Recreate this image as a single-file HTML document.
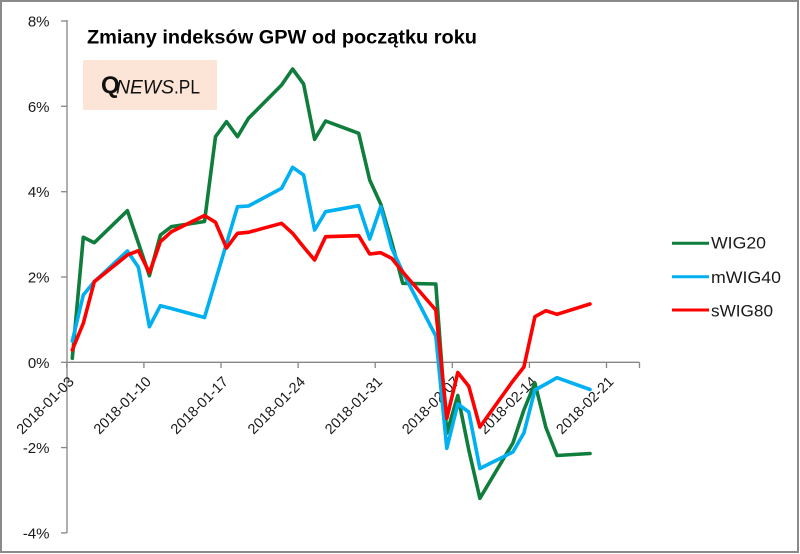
<!DOCTYPE html>
<html>
<head>
<meta charset="utf-8">
<style>
html,body{margin:0;padding:0;background:#fff;}
svg{display:block;}
text{font-family:"Liberation Sans",sans-serif;}
</style>
</head>
<body>
<svg width="800" height="554" viewBox="0 0 800 554" xmlns="http://www.w3.org/2000/svg">
<rect x="0" y="0" width="800" height="554" fill="#fff"/>
<rect x="1" y="1" width="797" height="551" fill="none" stroke="#8a8a8a" stroke-width="2"/>

<!-- title -->
<text x="87" y="43.5" font-size="19.5" font-weight="bold" fill="#000" textLength="390" lengthAdjust="spacingAndGlyphs">Zmiany indeksów GPW od początku roku</text>

<!-- logo -->
<rect x="83" y="60" width="134" height="50" fill="#fce5d6"/>
<text x="101" y="93" font-family="'Liberation Serif',serif" font-size="24" font-weight="bold" fill="#111">Q</text>
<text x="116" y="93.5" font-size="19.5" font-style="italic" fill="#111" textLength="58" lengthAdjust="spacingAndGlyphs">NEWS</text>
<text x="174" y="93.5" font-size="19" fill="#111" textLength="26" lengthAdjust="spacingAndGlyphs">.PL</text>

<!-- axes -->
<g stroke="#868686" stroke-width="1.3" fill="none">
<line x1="67" y1="20" x2="67" y2="533"/>
<line x1="61" y1="21" x2="67" y2="21"/>
<line x1="61" y1="106.3" x2="67" y2="106.3"/>
<line x1="61" y1="191.7" x2="67" y2="191.7"/>
<line x1="61" y1="277" x2="67" y2="277"/>
<line x1="61" y1="362.3" x2="67" y2="362.3"/>
<line x1="61" y1="447.6" x2="67" y2="447.6"/>
<line x1="61" y1="532.9" x2="67" y2="532.9"/>
<line x1="67" y1="362.3" x2="639.5" y2="362.3"/>
<line x1="66.8" y1="362.3" x2="66.8" y2="368"/>
<line x1="143.9" y1="362.3" x2="143.9" y2="368"/>
<line x1="221" y1="362.3" x2="221" y2="368"/>
<line x1="298.1" y1="362.3" x2="298.1" y2="368"/>
<line x1="375.2" y1="362.3" x2="375.2" y2="368"/>
<line x1="452.3" y1="362.3" x2="452.3" y2="368"/>
<line x1="529.4" y1="362.3" x2="529.4" y2="368"/>
<line x1="606.5" y1="362.3" x2="606.5" y2="368"/>
<line x1="639.5" y1="362.3" x2="639.5" y2="368"/>
</g>

<!-- y labels -->
<g font-size="15" fill="#1a1a1a" text-anchor="end">
<text x="49.5" y="26.5">8%</text>
<text x="49.5" y="111.8">6%</text>
<text x="49.5" y="197.2">4%</text>
<text x="49.5" y="282.5">2%</text>
<text x="49.5" y="367.8">0%</text>
<text x="49.5" y="453.1">-2%</text>
<text x="49.5" y="538.4">-4%</text>
</g>

<!-- x labels -->
<g font-size="14.5" fill="#1a1a1a" text-anchor="end">
<text transform="translate(74.8,382.5) rotate(-45)">2018-01-03</text>
<text transform="translate(151.9,382.5) rotate(-45)">2018-01-10</text>
<text transform="translate(229,382.5) rotate(-45)">2018-01-17</text>
<text transform="translate(306.1,382.5) rotate(-45)">2018-01-24</text>
<text transform="translate(383.2,382.5) rotate(-45)">2018-01-31</text>
<text transform="translate(460.3,382.5) rotate(-45)">2018-02-07</text>
<text transform="translate(537.4,382.5) rotate(-45)">2018-02-14</text>
<text transform="translate(614.5,382.5) rotate(-45)">2018-02-21</text>
</g>

<!-- series -->
<g fill="none" stroke-width="3.6" stroke-linejoin="round" stroke-linecap="round">
<polyline stroke="#0f7d3c" points="72.3,358.3 83.3,237.3 94.3,242.7 127.4,210.7 138.4,243 149.4,275.7 160.4,235 171.4,226.7 204.5,221.5 215.5,136.7 226.5,121.7 237.5,136.7 248.5,118.3 281.6,85 292.6,69 303.6,84 314.6,139.3 325.6,121 358.7,133.3 369.7,180 380.7,204 391.7,242 402.7,283.3 435.8,284 446.8,433.3 457.8,395.5 468.8,450 479.9,498.3 512.9,443 523.9,410 534.9,383 545.9,427.5 557,455.5 590,453.5"/>
<polyline stroke="#00b0f0" points="72.3,341 83.3,295 94.3,281.7 127.4,251 138.4,267.3 149.4,326.7 160.4,305.7 171.4,308.5 204.5,317.5 215.5,280.6 226.5,243.6 237.5,206.7 248.5,206 281.6,188.3 292.6,167.3 303.6,175 314.6,230 325.6,211.7 358.7,205.7 369.7,239 380.7,206.7 391.7,248 402.7,272 435.8,336 446.8,448.3 457.8,404 468.8,412 479.9,468.5 512.9,452 523.9,433 534.9,390 545.9,384 557,377.7 590,389.5"/>
<polyline stroke="#ff0000" points="72.3,350 83.3,323.3 94.3,281.7 127.4,255 138.4,250.7 149.4,272.7 160.4,241.7 171.4,231.7 204.5,215.5 215.5,222.3 226.5,248 237.5,233.3 248.5,232.3 281.6,223.3 292.6,233.3 303.6,247 314.6,260 325.6,236.7 358.7,235.7 369.7,254 380.7,252.7 391.7,258.3 402.7,272 435.8,310 446.8,418.3 457.8,372.5 468.8,386.3 479.9,427 512.9,381 523.9,367 534.9,316.7 545.9,310.7 557,314.3 590,304"/>
</g>

<!-- legend -->
<g stroke-width="3" fill="none">
<line x1="672" y1="243.3" x2="709" y2="243.3" stroke="#0f7d3c"/>
<line x1="672" y1="276.7" x2="709" y2="276.7" stroke="#00b0f0"/>
<line x1="672" y1="310" x2="709" y2="310" stroke="#ff0000"/>
</g>
<g font-size="17" fill="#1a1a1a">
<text x="711" y="248.5" textLength="55" lengthAdjust="spacingAndGlyphs">WIG20</text>
<text x="711" y="283" textLength="70" lengthAdjust="spacingAndGlyphs">mWIG40</text>
<text x="711" y="316.5" textLength="62" lengthAdjust="spacingAndGlyphs">sWIG80</text>
</g>
</svg>
</body>
</html>
